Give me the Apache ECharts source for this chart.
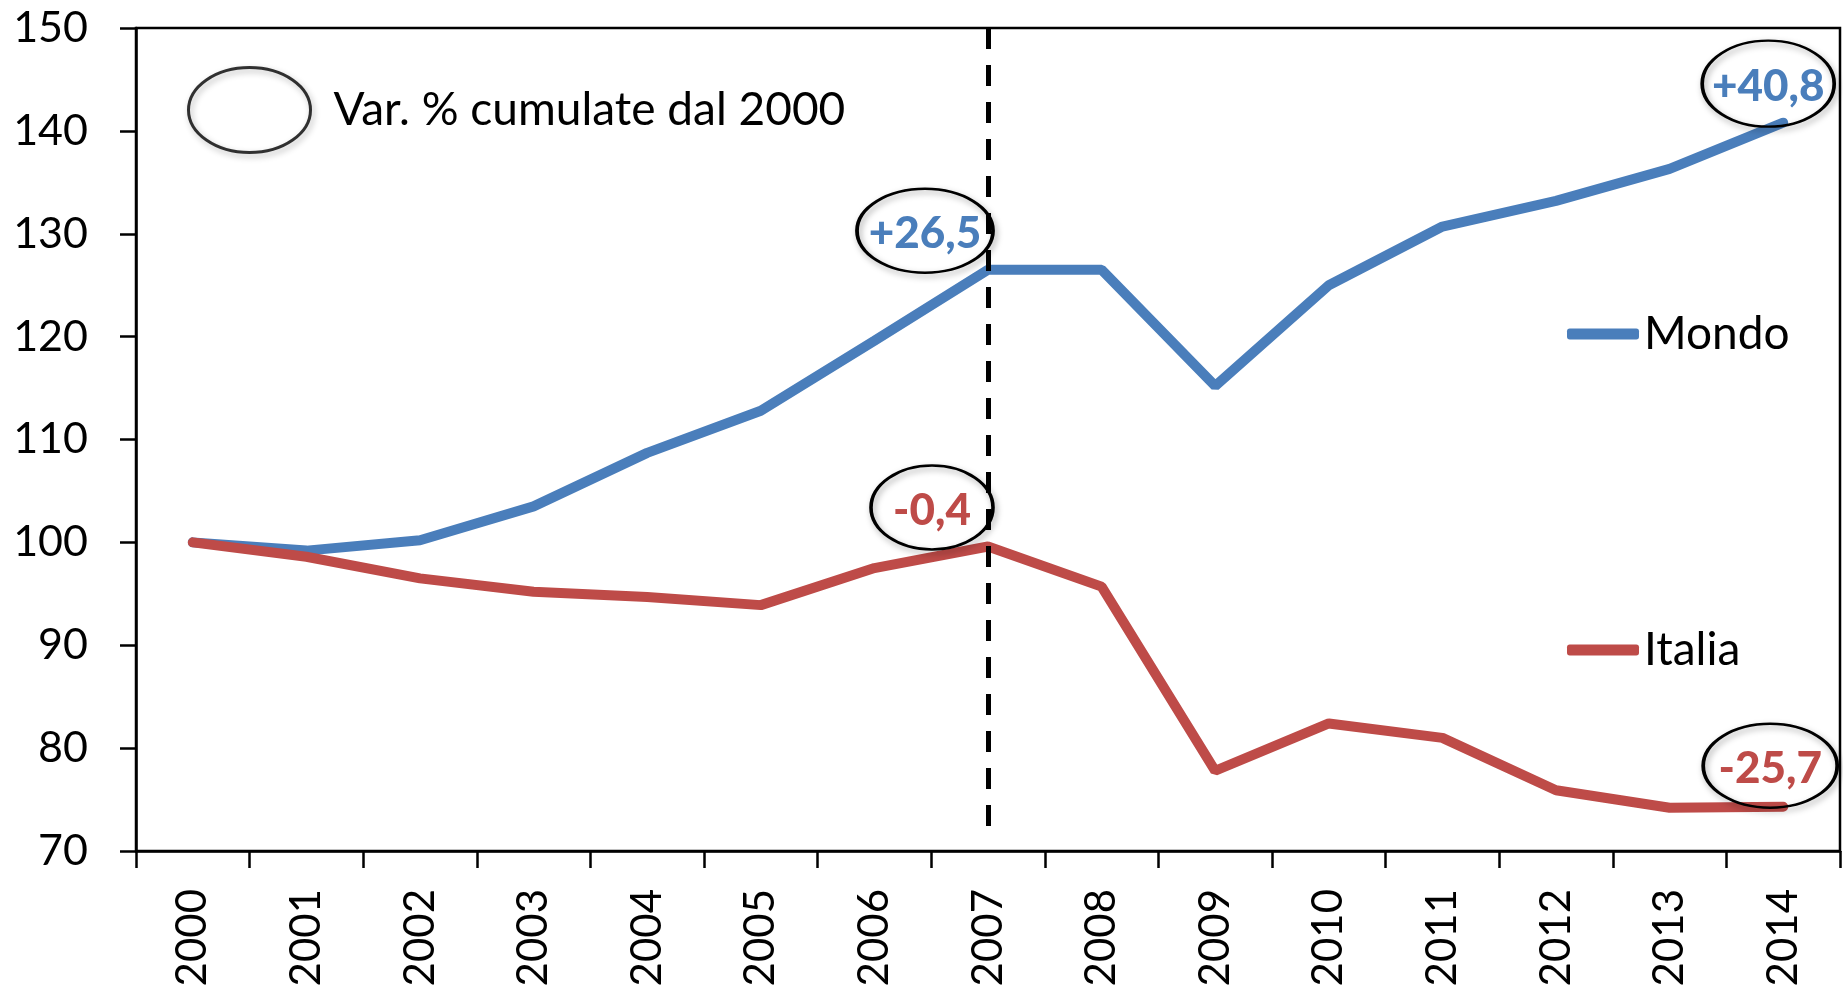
<!DOCTYPE html>
<html>
<head>
<meta charset="utf-8">
<script src="https://cdn.jsdelivr.net/npm/echarts@6/dist/echarts.min.js"></script>
<style>
  html, body { margin: 0; padding: 0; background: #fff; }
  #chart { width: 1843px; height: 990px; }
</style>
</head>
<body>
<div id="chart"></div>
<script>
// anni e indici (2000 = 100)
const years = ['2000','2001','2002','2003','2004','2005','2006','2007','2008','2009','2010','2011','2012','2013','2014'];
const mondo = [100, 99.2, 100.2, 103.5, 108.7, 112.8, 119.6, 126.5, 126.5, 115.2, 125.0, 130.7, 133.2, 136.3, 140.8];
const italia = [100, 98.6, 96.5, 95.2, 94.7, 93.9, 97.5, 99.6, 95.7, 77.8, 82.4, 81.0, 75.9, 74.2, 74.3];
const yTicks = { min: 70, max: 150, step: 10 };
const noteName = 'Var. % cumulate dal 2000';

const FONT = 'Lato';
const BLUE = '#4A7EBB';
const RED = '#BE4B48';
const ELLIPSE = 'path://M0,50 C0,22.4 22.4,0 50,0 C77.6,0 100,22.4 100,50 C100,77.6 77.6,100 50,100 C22.4,100 0,77.6 0,50 Z';

// variazione cumulata rispetto al 2000, con virgola decimale
function varLabel(v) {
  const d = v - 100;
  return (d >= 0 ? '+' : '-') + Math.abs(d).toFixed(1).replace('.', ',');
}

const ellipseStyle = {
  color: 'rgba(0,0,0,0)',
  borderColor: '#000',
  borderWidth: 3,
  shadowBlur: 6,
  shadowColor: 'rgba(0,0,0,0.35)',
  shadowOffsetX: 2,
  shadowOffsetY: 3
};

function note(series, idx, size, offset, color) {
  return {
    coord: [years[idx], series[idx]],
    symbol: ELLIPSE,
    symbolSize: size,
    symbolOffset: offset,
    itemStyle: ellipseStyle,
    label: {
      show: true,
      position: 'inside',
      formatter: varLabel(series[idx]),
      color: color,
      fontFamily: FONT,
      fontWeight: 900,
      fontSize: 44,
      offset: [0, 3]
    }
  };
}

function sideLegend(name, top) {
  return {
    data: [{ name: name, icon: 'roundRect' }],
    left: 1562, top: top,
    itemWidth: 72, itemHeight: 11,
    selectedMode: false,
    textStyle: { fontFamily: FONT, fontSize: 46, color: '#000', lineHeight: 54, padding: [0, 0, 0, 0] }
  };
}

let chart = echarts.init(document.getElementById('chart'));
let option = {
  animation: false,
  grid: {
    left: 136, right: 3, top: 28, bottom: 139,
    show: true,
    borderColor: '#000',
    borderWidth: 2.5
  },
  legend: [
    {
      data: [{ name: noteName, icon: ELLIPSE }],
      left: 182, top: 61,
      itemWidth: 122, itemHeight: 85,
      symbolKeepAspect: false,
      selectedMode: false,
      itemStyle: ellipseStyle,
      textStyle: { fontFamily: FONT, fontSize: 46, color: '#000', padding: [0, 0, 0, 18] }
    },
    sideLegend('Mondo', 302),
    sideLegend('Italia', 618)
  ],
  xAxis: {
    type: 'category',
    data: years,
    boundaryGap: true,
    axisLine: { lineStyle: { color: '#000', width: 2.5 } },
    axisTick: { show: true, interval: 0, length: 17, lineStyle: { color: '#000', width: 2.5 } },
    axisLabel: { interval: 0, rotate: 90, margin: 38, color: '#000', fontFamily: FONT, fontSize: 42 },
    splitLine: { show: false }
  },
  yAxis: {
    type: 'value',
    min: yTicks.min,
    max: yTicks.max,
    interval: yTicks.step,
    axisLine: { show: true, lineStyle: { color: '#000', width: 2.5 } },
    axisTick: { show: true, length: 16, lineStyle: { color: '#000', width: 2.5 } },
    axisLabel: { margin: 48, color: '#000', fontFamily: FONT, fontSize: 43 },
    splitLine: { show: false }
  },
  series: [
    {
      name: noteName,
      type: 'scatter',
      data: [],
      itemStyle: ellipseStyle
    },
    {
      name: 'Mondo',
      type: 'line',
      data: mondo,
      color: BLUE,
      symbol: 'none',
      showSymbol: false,
      lineStyle: { width: 10, cap: 'round', color: BLUE },
      emphasis: { disabled: true },
      markPoint: {
        silent: true,
        data: [
          note(mondo, 7, [136, 84], [-63, -39], BLUE),
          note(mondo, 14, [132, 86], [-15, -39], BLUE)
        ]
      }
    },
    {
      name: 'Italia',
      type: 'line',
      data: italia,
      color: RED,
      symbol: 'none',
      showSymbol: false,
      lineStyle: { width: 10, cap: 'round', color: RED },
      emphasis: { disabled: true },
      markPoint: {
        silent: true,
        data: [
          note(italia, 7, [122, 84], [-56, -39], RED),
          note(italia, 14, [134, 84], [-13, -41], RED)
        ]
      },
      markLine: {
        silent: true,
        symbol: ['none', 'none'],
        label: { show: false },
        lineStyle: { color: '#000', width: 5, type: [21, 16] },
        data: [[
          { coord: [years[7], yTicks.max] },
          { coord: [years[7], 71.1] }
        ]]
      }
    }
  ]
};
chart.setOption(option);
</script>
</body>
</html>
